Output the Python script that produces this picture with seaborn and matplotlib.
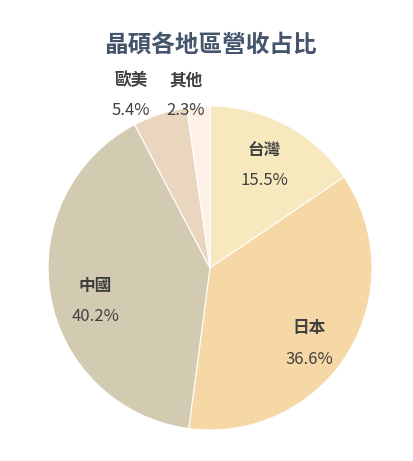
import numpy as np
import matplotlib
matplotlib.use("Agg")
import matplotlib.pyplot as plt
import seaborn as sns

sns.set_theme(style="white")
plt.rcParams['font.family'] = ['Noto Sans CJK TC', 'DejaVu Sans']

# 晶碩各地區營收占比
regions = ["台灣", "日本", "中國", "歐美", "其他"]
shares = [15.5, 36.6, 40.2, 5.4, 2.3]
colors = ["#F7E8BD", "#F6D7A6", "#D2CBB2", "#EAD6BE", "#FDF1E7"]

fig = plt.figure(figsize=(4.13, 4.61), dpi=100)
# pie centre ~ (210, 268) px, radius ~162 px
ax = fig.add_axes([(210 - 162) / 413, (461 - 268 - 162) / 461, 324 / 413, 324 / 461])

wedges, _ = ax.pie(shares, colors=sns.color_palette(colors), startangle=90,
                   counterclock=False, radius=1,
                   wedgeprops=dict(edgecolor="white", linewidth=0.8))
ax.set_xlim(-1, 1)
ax.set_ylim(-1, 1)
ax.set_aspect("equal")
ax.axis("off")

lab_color = "#404040"
# small slices get their labels above the pie, like the excel original
outside_x = {"歐美": -0.49, "其他": -0.15}
nudge_y = {"台灣": 0.0, "日本": -0.09, "中國": -0.08}
for w, name, val in zip(wedges, regions, shares):
    ang = np.deg2rad((w.theta1 + w.theta2) / 2)
    if name in outside_x:
        x, y = outside_x[name], 1.065
    else:
        x, y = 0.72 * np.cos(ang), 0.72 * np.sin(ang) + nudge_y[name]
    ax.text(x, y + 0.095, name, ha="center", va="center", fontsize=12,
            fontweight="bold", color=lab_color)
    ax.text(x, y - 0.095, f"{val}%", ha="center", va="center", fontsize=12,
            color=lab_color)

fig.text(210 / 413, 1 - 45 / 461, "晶碩各地區營收占比", ha="center", va="center",
         fontsize=17, fontweight="bold", color="#44546A")

fig.savefig("out.png", dpi=100)
